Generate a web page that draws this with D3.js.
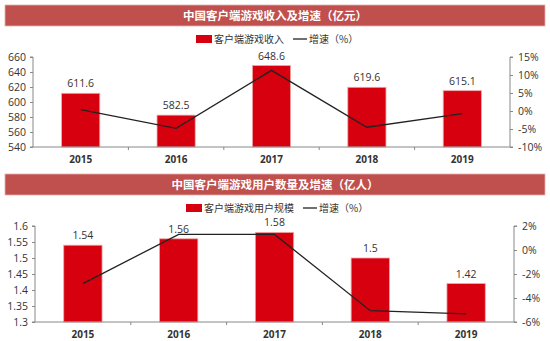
<!DOCTYPE html>
<html><head><meta charset="utf-8">
<script src="https://cdn.jsdelivr.net/npm/d3@7/dist/d3.min.js"></script>
<style>body{margin:0;background:#fff}svg{display:block}</style>
</head><body>
<svg id="c" width="550" height="341"></svg>
<script>
const years = ["2015","2016","2017","2018","2019"];
const revenue = [611.6, 582.5, 648.6, 619.6, 615.1];
const revenueGrowth = [0.4, -4.8, 11.3, -4.5, -0.7];
const revenueTicks = [540,560,580,600,620,640,660];
const revenuePctTicks = [-10,-5,0,5,10,15];
const users = [1.54, 1.56, 1.58, 1.5, 1.42];
const usersGrowth = [-2.8, 1.3, 1.3, -5.06, -5.33];
const usersTicks = [1.3,1.35,1.4,1.45,1.5,1.55,1.6];
const usersPctTicks = [-6,-4,-2,0,2];

const svg = d3.select("#c");
const CJK = "'Noto Sans CJK SC', sans-serif";
const NUM = "'Open Sans','Liberation Sans', sans-serif";

function chart(o){
  // banner
  svg.append("rect").attr("x",5).attr("y",o.bannerY).attr("width",540).attr("height",21)
    .attr("fill","#c0504d").attr("stroke","#e6b0ae").attr("stroke-width",0.8);
  svg.append("text").attr("x",275).attr("y",o.bannerY+15).attr("text-anchor","middle")
    .attr("fill","#fff").attr("font-family",CJK).attr("font-weight","bold").attr("font-size",11.5)
    .text(o.title);
  // legend
  const lg = svg.append("g").attr("font-family",CJK).attr("font-size",10).attr("fill","#333");
  lg.append("rect").attr("x",o.legX).attr("y",o.legY-4).attr("width",16).attr("height",8).attr("fill","#d7000f");
  lg.append("text").attr("x",o.legX+18).attr("y",o.legY+3.5).text(o.barName);
  lg.append("line").attr("x1",o.lineX).attr("x2",o.lineX+14).attr("y1",o.legY).attr("y2",o.legY)
    .attr("stroke","#222").attr("stroke-width",1.3);
  lg.append("text").attr("x",o.lineX+16).attr("y",o.legY+3.5).text("增速（%）");

  const x = d3.scaleBand().domain(years).range([o.x0,o.x1]).paddingInner(0.6).paddingOuter(0.3);
  const xb = d3.scaleBand().domain(years).range([o.x0,o.x1]);
  const y = d3.scaleLinear().domain(o.yDom).range([o.y1,o.y0]);
  const y2 = d3.scaleLinear().domain(o.y2Dom).range([o.y1,o.y0]);

  // bars
  svg.append("g").selectAll("rect").data(o.vals).join("rect")
    .attr("x",(d,i)=>x(years[i])).attr("width",x.bandwidth())
    .attr("y",d=>y(d)).attr("height",d=>o.y1-y(d))
    .attr("fill","#d7000f").attr("stroke","#f2a5a5").attr("stroke-width",0.8);
  // value labels
  svg.append("g").selectAll("text").data(o.vals).join("text")
    .attr("x",(d,i)=>xb(years[i])+xb.bandwidth()/2).attr("y",d=>y(d)-6)
    .attr("text-anchor","middle").attr("font-family",NUM).attr("font-size",10.5).attr("fill","#333")
    .text(d=>d);
  // line
  const line = d3.line().x((d,i)=>xb(years[i])+xb.bandwidth()/2).y(d=>y2(d));
  svg.append("path").datum(o.growth).attr("d",line).attr("fill","none")
    .attr("stroke","#222").attr("stroke-width",1.3);

  // axes
  const ax = svg.append("g").attr("transform",`translate(${o.x0},0)`)
    .call(d3.axisLeft(y).tickValues(o.yTicks).tickSize(3).tickPadding(4).tickFormat(o.yFmt));
  const ar = svg.append("g").attr("transform",`translate(${o.x1},0)`)
    .call(d3.axisRight(y2).tickValues(o.y2Ticks).tickSize(3).tickPadding(5).tickFormat(d=>d+"%"));
  const axB = svg.append("g").attr("transform",`translate(0,${o.y1})`)
    .call(d3.axisBottom(xb).tickSize(0).tickPadding(9));
  // category boundary ticks
  svg.append("g").selectAll("line").data(years.slice(1)).join("line")
    .attr("x1",d=>xb(d)).attr("x2",d=>xb(d)).attr("y1",o.y1).attr("y2",o.y1+3)
    .attr("stroke","#888");
  [ax,ar,axB].forEach(g=>{
    g.selectAll("path.domain").attr("stroke","#888");
    g.selectAll(".tick line").attr("stroke","#888");
    g.selectAll("text").attr("font-family",NUM).attr("font-size",10.5).attr("fill","#333");
  });
  axB.selectAll("text").attr("font-weight","bold").attr("font-size",10);
  ax.select("path.domain").attr("d",`M-3,${o.y0}H0V${o.y1}H-3`);
  ar.select("path.domain").attr("d",`M3,${o.y0}H0V${o.y1}H3`);
  axB.select("path.domain").attr("d",`M${o.x0},0H${o.x1}`);
}

chart({title:"中国客户端游戏收入及增速（亿元）", bannerY:5, legY:39, legX:196, lineX:293,
  barName:"客户端游戏收入", x0:33, x1:510, y0:57, y1:147,
  yDom:[540,660], y2Dom:[-10,15], vals:revenue, growth:revenueGrowth,
  yTicks:revenueTicks, y2Ticks:revenuePctTicks, yFmt:d=>d});
chart({title:"中国客户端游戏用户数量及增速（亿人）", bannerY:174, legY:208, legX:186, lineX:303,
  barName:"客户端游戏用户规模", x0:35, x1:514, y0:226, y1:322,
  yDom:[1.3,1.6], y2Dom:[-6,2], vals:users, growth:usersGrowth,
  yTicks:usersTicks, y2Ticks:usersPctTicks, yFmt:d=>String(+d.toFixed(2))});
</script>
</body></html>
